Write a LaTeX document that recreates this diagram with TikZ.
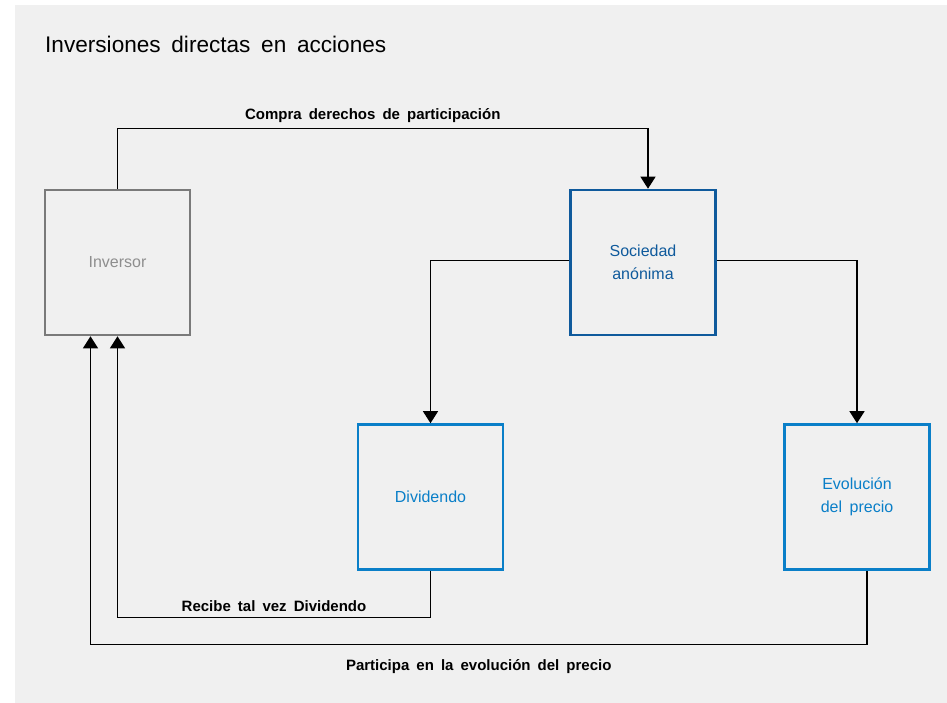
\documentclass[tikz,border=0pt]{standalone}
\usepackage{fontspec}
\setmainfont[WordSpace=1.7]{Liberation Sans}
\usetikzlibrary{arrows.meta, positioning}
\definecolor{panelgray}{HTML}{F0F0F0}
\definecolor{inversorgray}{HTML}{7A7A7A}
\definecolor{sociedadblue}{HTML}{0F5A9C}
\definecolor{flowblue}{HTML}{0A7FC8}

\begin{document}
\begin{tikzpicture}[x=1pt, y=-1pt]
\tikzstyle{box} = [rectangle, minimum width=145pt, minimum height=145pt, line width=2.6pt, align=center, font=\fontsize{16}{23}\selectfont]
\tikzstyle{flow} = [line width=1.3pt, -{Triangle[width=15pt,length=12pt]}]
\tikzstyle{lbl} = [font=\fontsize{15}{17}\selectfont\bfseries, inner sep=5pt]

\useasboundingbox (0,0) rectangle (947,703);
\fill[panelgray] (15,5) rectangle (947,703);

\node[anchor=base west, font=\fontsize{22.6}{26}\selectfont, inner sep=0pt] (title) at (45,53) {Inversiones directas en acciones};

\node (inv) [box, draw=inversorgray, text=inversorgray!85] at (117.5,262.5) {Inversor};
\node (soc) [box, draw=sociedadblue, text=sociedadblue] at (643,262.5) {Sociedad\\an\'onima};
\node (div) [box, draw=flowblue, text=flowblue] at (430.5,497) {Dividendo};
\node (evo) [box, draw=flowblue, text=flowblue] at (857,497) {Evoluci\'on\\del precio};

\coordinate (invin) at ([xshift=-27pt]inv.south);
\coordinate (evoout) at ([xshift=10pt]evo.south);
\coordinate (socin) at ([xshift=5pt]soc.north);

\draw[flow] (inv.north) -- ++(0,-60) coordinate (c1) -- node[lbl, above, xshift=-10pt] {Compra derechos de participaci\'on} (c1 -| socin) -- (socin);
\draw[flow] ([yshift=2pt]soc.west) -| (div.north);
\draw[flow] ([yshift=2pt]soc.east) -| (evo.north);
\draw[flow] (div.south) -- ++(0,47) coordinate (c2) -- node[lbl, above, inner sep=6pt] {Recibe tal vez Dividendo} (c2 -| inv.south) -- (inv.south);
\draw[flow] (evoout) -- ++(0,74) coordinate (c3) -- node[lbl, below, inner sep=14pt] {Participa en la evoluci\'on del precio} (c3 -| invin) -- (invin);

\end{tikzpicture}
\end{document}
